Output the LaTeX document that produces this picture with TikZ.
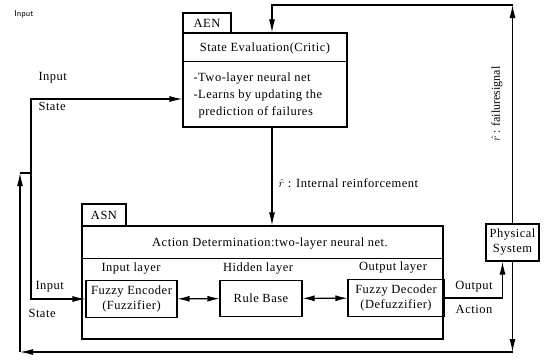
\documentclass[tikz,border=0pt]{standalone}
\usepackage{fontspec}
\setmainfont{Liberation Serif}[LetterSpace=4]
\newfontfamily\narrowserif{Liberation Serif}
\usetikzlibrary{arrows.meta}
\newcommand{\mainsz}{\fontsize{12.5}{15}\selectfont}
\newcommand{\rhat}{$\hat{r}$}
\begin{document}
\begin{tikzpicture}[x=1pt,y=-1pt,line width=1.1pt,
  box/.style={draw, rectangle, inner sep=0pt, align=center, font=\mainsz},
  lbl/.style={inner sep=1pt, font=\mainsz},
  arr/.style={-{Latex[length=13pt,width=6pt]}},
  dbl/.style={{Latex[length=12pt,width=6pt]}-{Latex[length=12pt,width=6pt]}}]
\useasboundingbox (0,0) rectangle (554,360);
% top-left caption
\node[inner sep=0pt, font=\sffamily\fontsize{8.5}{10}\selectfont] (cap) at (24,14) {Input};
% AEN
\node[box, minimum width=48pt, minimum height=20pt] (aentab) at (207,23) {AEN};
\node[box, minimum width=164pt, minimum height=94pt] (aen) at (265,80) {};
\draw ([yshift=-29pt]aen.north west) -- ([yshift=-29pt]aen.north east);
\node[lbl] (aentitle) at (265,48) {State Evaluation(Critic)};
\node[lbl, anchor=west] (b1) at (192,79) {-Two-layer neural net};
\node[lbl, anchor=west] (b2) at (192,96) {-Learns by updating the};
\node[lbl, anchor=west] (b3) at (197,112) {prediction of failures};
% ASN
\node[box, minimum width=44pt, minimum height=22pt] (asntab) at (104,215) {ASN};
\node[box, minimum width=361pt, minimum height=113pt] (asn) at (262.5,282.5) {};
\draw ([yshift=-33pt]asn.north west) -- ([yshift=-33pt]asn.north east);
\node[lbl] (asntitle) at (270,244) {Action Determination:two-layer neural net.};
\node[lbl] (l1) at (131,269) {Input layer};
\node[lbl] (l2) at (258,269) {Hidden layer};
\node[lbl] (l3) at (393,268) {Output layer};
\node[box, minimum width=91pt, minimum height=37pt] (enc) at (131.5,299) {Fuzzy Encoder\\(Fuzzifier)};
\node[box, minimum width=82pt, minimum height=36pt] (rule) at (261,298.5) {Rule Base};
\node[box, minimum width=96pt, minimum height=37pt] (dec) at (396,298) {Fuzzy Decoder\\(Defuzzifier)};
\draw[dbl] (enc) -- (rule);
\draw[dbl] (rule) -- (dec);
% physical system
\node[box, minimum width=53pt, minimum height=37pt] (phys) at (512.5,242.5) {Physical\\System};
% connectors
\coordinate (tr) at (512.5,5);
\coordinate (br) at (512.5,352);
\coordinate (bl) at (20,352);
\coordinate (lt) at (20,173);
\coordinate (j) at (31,173);
\draw[arr] (phys.north) -- (tr);
\draw[arr] (tr) -| ([xshift=7pt]aen.north);
\draw[arr] ([xshift=7pt]aen.south) -- ([xshift=7pt]aen.south |- asn.north);
\draw[arr] (dec.east) -| ([xshift=-10pt]phys.south);
\draw[arr] (phys.south) -- (br);
\draw[arr] (br) -- (bl);
\draw[arr] (bl) -- (lt);
\draw (lt) -- (j);
\draw[arr] (j) |- ([yshift=-19pt]aen.west);
\draw[arr] (j) |- (enc.west);
% labels
\node[lbl, anchor=west] (in1) at (37,78) {Input};
\node[lbl, anchor=west] (st1) at (37,106) {State};
\node[lbl, anchor=west] (in2) at (34,287) {Input};
\node[lbl, anchor=west] (st2) at (27,313) {State};
\node[lbl] (outl) at (474,287) {Output};
\node[lbl] (actl) at (474,309) {Action};
\node[lbl, anchor=west] (rint) at (277,183) {\rhat\ : Internal reinforcement};
\node[inner sep=1pt, rotate=90, font=\narrowserif\fontsize{12}{14}\selectfont] (rfail) at (497,104) {\rhat\,: failuresignal};
\end{tikzpicture}
\end{document}
